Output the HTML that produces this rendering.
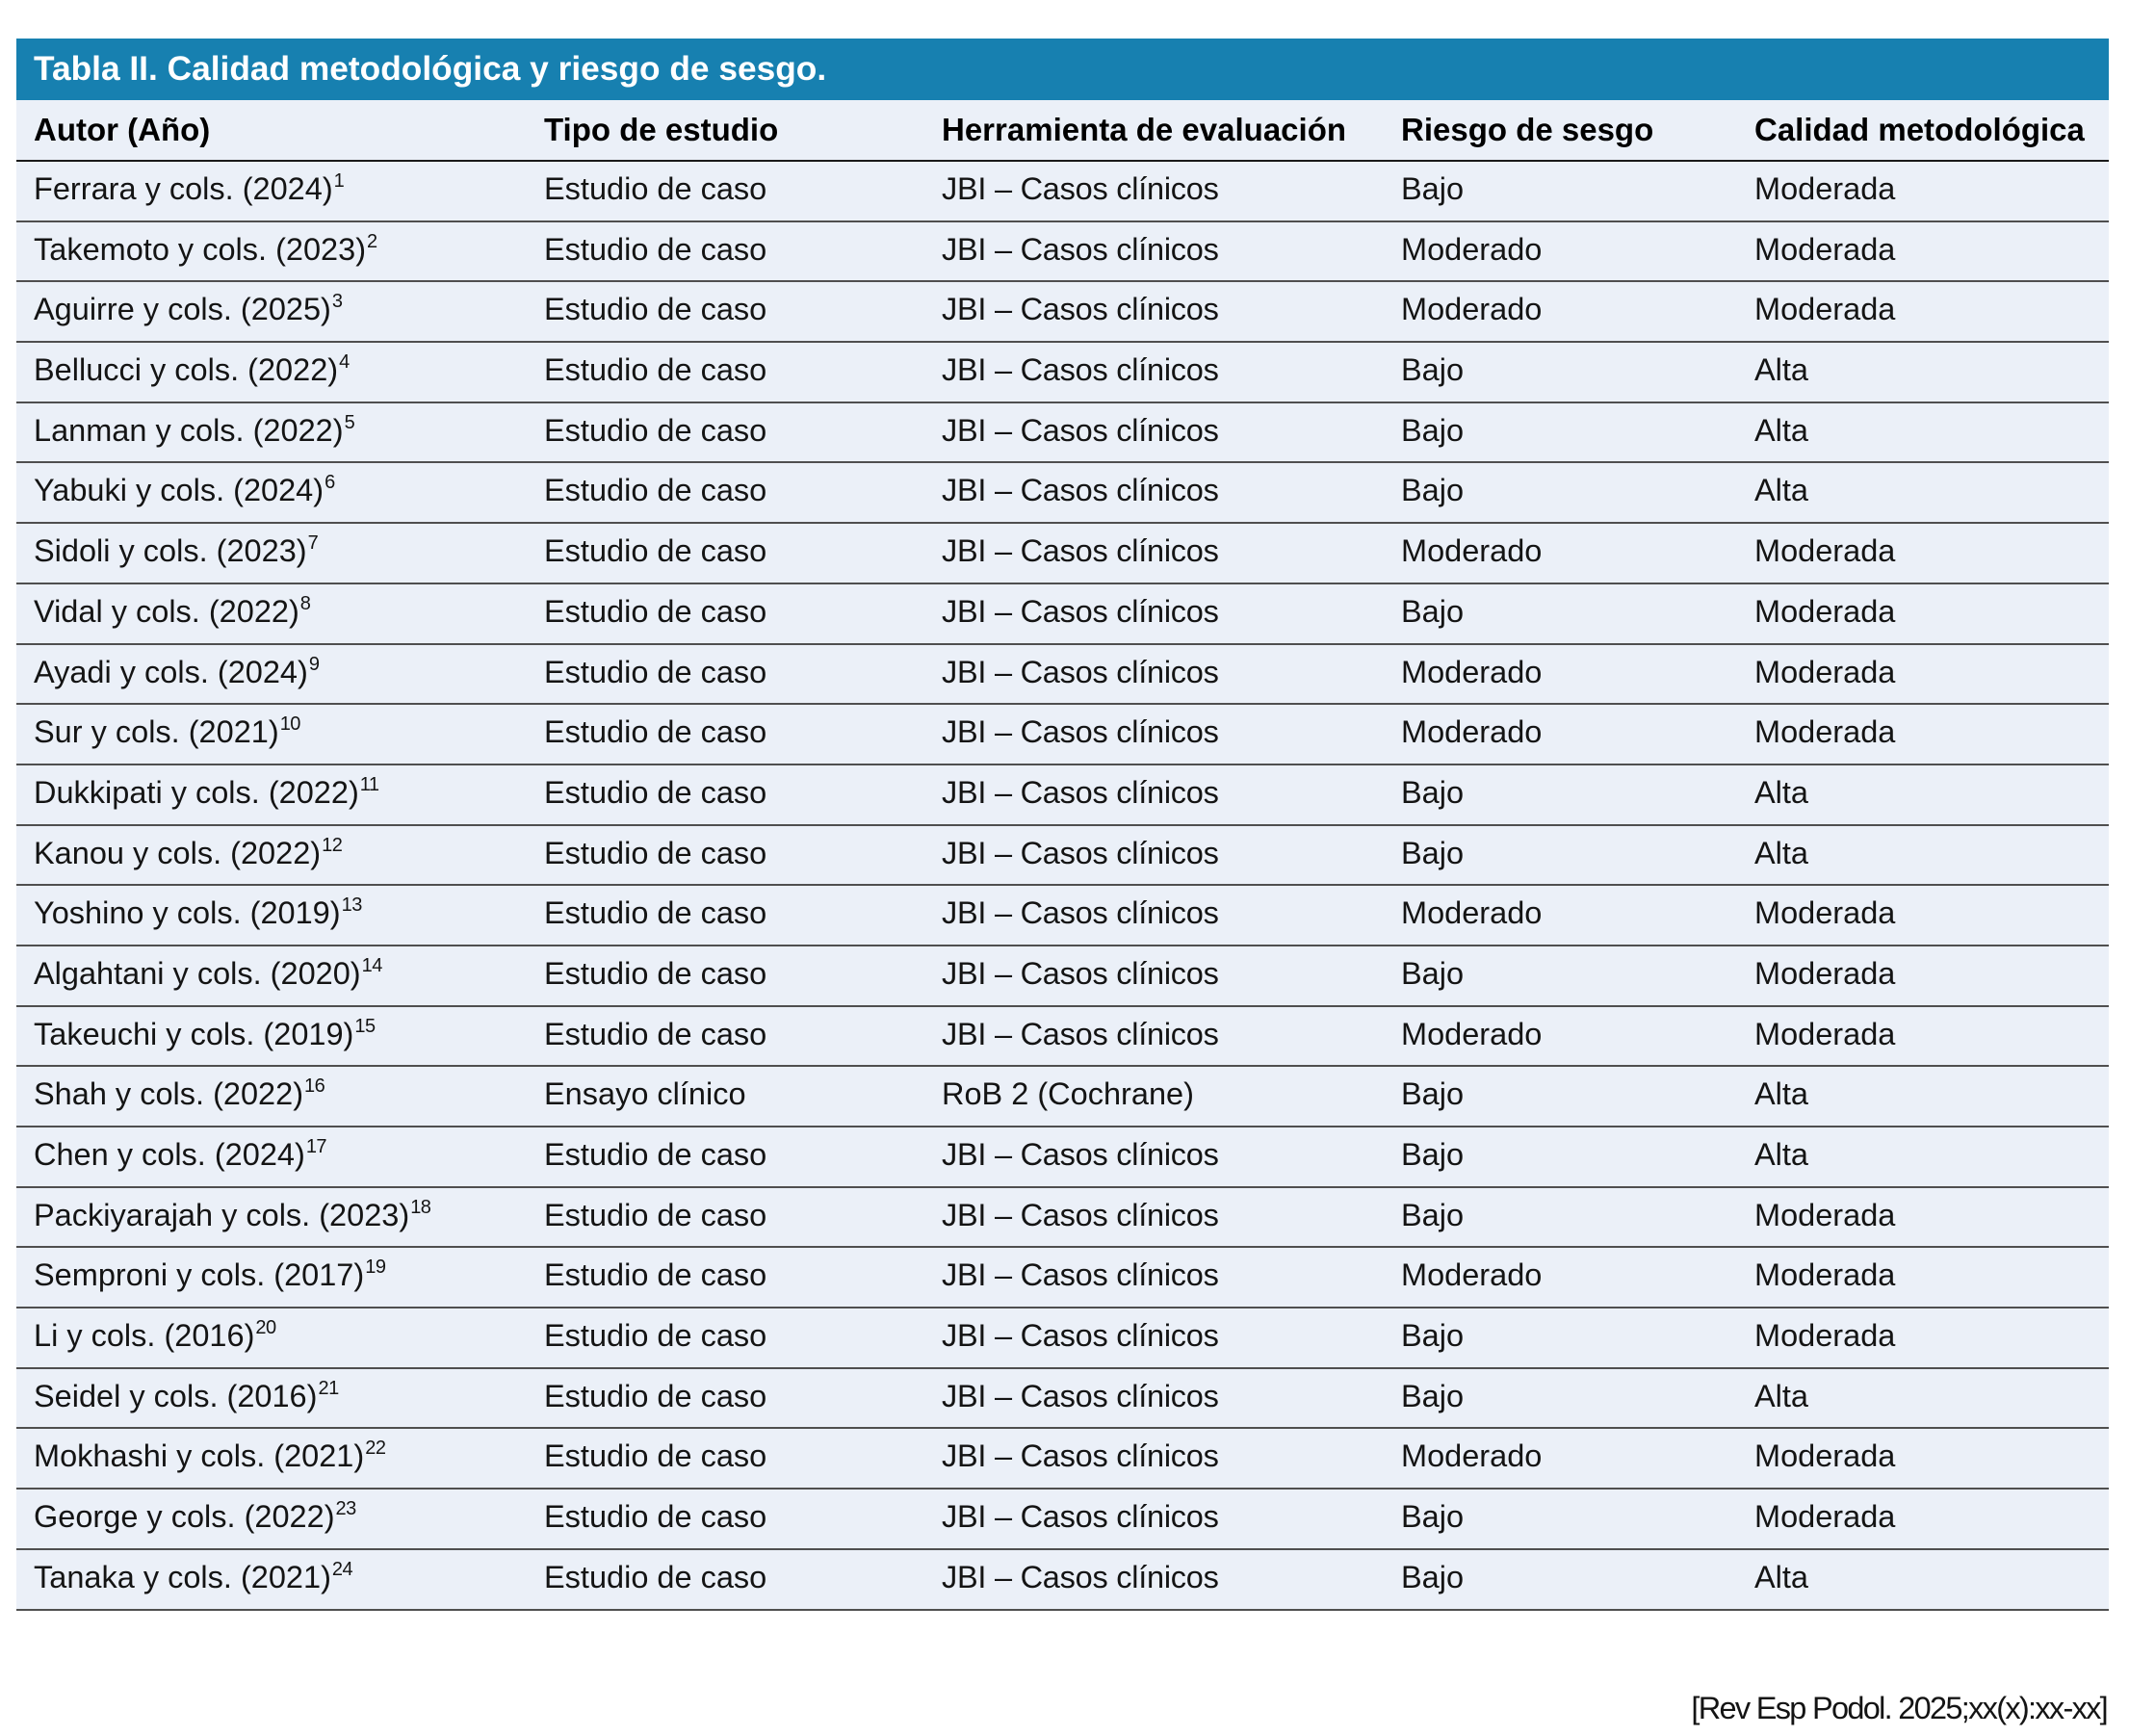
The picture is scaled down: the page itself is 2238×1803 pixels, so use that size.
<!DOCTYPE html>
<html><head><meta charset="utf-8">
<style>
html,body{margin:0;padding:0;background:#fff;}
body{width:2238px;height:1803px;position:relative;overflow:hidden;font-family:"Liberation Sans",Arial,sans-serif;color:#141414;}
.title{position:absolute;left:17px;top:40px;width:2173px;height:64px;background:#1780b0;color:#fff;font-weight:bold;font-size:35.3px;line-height:64px;}
.title span{position:absolute;left:18px;top:0;white-space:nowrap;}
.bg{position:absolute;left:17px;top:104px;width:2173px;height:1569px;background:#ebf0f8;}
.hdr{position:absolute;left:17px;top:104px;width:2173px;height:62px;font-weight:bold;font-size:33px;line-height:62px;color:#000;}
.hdr div{position:absolute;top:0;white-space:nowrap;}
.rows{position:absolute;left:17px;top:166px;width:2173px;}
.r{position:relative;height:62.7px;box-sizing:border-box;border-top:2px solid #4f4f4f;font-size:32.5px;}
.r.first{border-top-color:#1a1a1a;}
.r div{position:absolute;top:-3px;line-height:62.7px;white-space:nowrap;}
.t{letter-spacing:-0.25px;}
.last{height:2px;background:#4f4f4f;}
.c1{left:18px}.c2{left:548px}.c3{left:961px}.c4{left:1438px}.c5{left:1805px}
sup{font-size:20px;vertical-align:baseline;position:relative;top:-13px;margin-left:1px;line-height:0;letter-spacing:-0.5px;}
.foot{position:absolute;right:50px;top:1749px;font-size:32.5px;line-height:50px;letter-spacing:-1.7px;white-space:nowrap;color:#141414;}
</style></head>
<body>
<div class="title"><span>Tabla II. Calidad metodológica y riesgo de sesgo.</span></div>
<div class="bg"></div>
<div class="hdr">
<div class="c1">Autor (Año)</div><div class="c2">Tipo de estudio</div><div class="c3">Herramienta de evaluación</div><div class="c4">Riesgo de sesgo</div><div class="c5">Calidad metodológica</div>
</div>
<div class="rows">
<div class="r first"><div class="c1">Ferrara y cols. (2024)<sup>1</sup></div><div class="c2">Estudio de caso</div><div class="c3 t">JBI – Casos clínicos</div><div class="c4">Bajo</div><div class="c5">Moderada</div></div>
<div class="r"><div class="c1">Takemoto y cols. (2023)<sup>2</sup></div><div class="c2">Estudio de caso</div><div class="c3 t">JBI – Casos clínicos</div><div class="c4">Moderado</div><div class="c5">Moderada</div></div>
<div class="r"><div class="c1">Aguirre y cols. (2025)<sup>3</sup></div><div class="c2">Estudio de caso</div><div class="c3 t">JBI – Casos clínicos</div><div class="c4">Moderado</div><div class="c5">Moderada</div></div>
<div class="r"><div class="c1">Bellucci y cols. (2022)<sup>4</sup></div><div class="c2">Estudio de caso</div><div class="c3 t">JBI – Casos clínicos</div><div class="c4">Bajo</div><div class="c5">Alta</div></div>
<div class="r"><div class="c1">Lanman y cols. (2022)<sup>5</sup></div><div class="c2">Estudio de caso</div><div class="c3 t">JBI – Casos clínicos</div><div class="c4">Bajo</div><div class="c5">Alta</div></div>
<div class="r"><div class="c1">Yabuki y cols. (2024)<sup>6</sup></div><div class="c2">Estudio de caso</div><div class="c3 t">JBI – Casos clínicos</div><div class="c4">Bajo</div><div class="c5">Alta</div></div>
<div class="r"><div class="c1">Sidoli y cols. (2023)<sup>7</sup></div><div class="c2">Estudio de caso</div><div class="c3 t">JBI – Casos clínicos</div><div class="c4">Moderado</div><div class="c5">Moderada</div></div>
<div class="r"><div class="c1">Vidal y cols. (2022)<sup>8</sup></div><div class="c2">Estudio de caso</div><div class="c3 t">JBI – Casos clínicos</div><div class="c4">Bajo</div><div class="c5">Moderada</div></div>
<div class="r"><div class="c1">Ayadi y cols. (2024)<sup>9</sup></div><div class="c2">Estudio de caso</div><div class="c3 t">JBI – Casos clínicos</div><div class="c4">Moderado</div><div class="c5">Moderada</div></div>
<div class="r"><div class="c1">Sur y cols. (2021)<sup>10</sup></div><div class="c2">Estudio de caso</div><div class="c3 t">JBI – Casos clínicos</div><div class="c4">Moderado</div><div class="c5">Moderada</div></div>
<div class="r"><div class="c1">Dukkipati y cols. (2022)<sup>11</sup></div><div class="c2">Estudio de caso</div><div class="c3 t">JBI – Casos clínicos</div><div class="c4">Bajo</div><div class="c5">Alta</div></div>
<div class="r"><div class="c1">Kanou y cols. (2022)<sup>12</sup></div><div class="c2">Estudio de caso</div><div class="c3 t">JBI – Casos clínicos</div><div class="c4">Bajo</div><div class="c5">Alta</div></div>
<div class="r"><div class="c1">Yoshino y cols. (2019)<sup>13</sup></div><div class="c2">Estudio de caso</div><div class="c3 t">JBI – Casos clínicos</div><div class="c4">Moderado</div><div class="c5">Moderada</div></div>
<div class="r"><div class="c1">Algahtani y cols. (2020)<sup>14</sup></div><div class="c2">Estudio de caso</div><div class="c3 t">JBI – Casos clínicos</div><div class="c4">Bajo</div><div class="c5">Moderada</div></div>
<div class="r"><div class="c1">Takeuchi y cols. (2019)<sup>15</sup></div><div class="c2">Estudio de caso</div><div class="c3 t">JBI – Casos clínicos</div><div class="c4">Moderado</div><div class="c5">Moderada</div></div>
<div class="r"><div class="c1">Shah y cols. (2022)<sup>16</sup></div><div class="c2">Ensayo clínico</div><div class="c3">RoB 2 (Cochrane)</div><div class="c4">Bajo</div><div class="c5">Alta</div></div>
<div class="r"><div class="c1">Chen y cols. (2024)<sup>17</sup></div><div class="c2">Estudio de caso</div><div class="c3 t">JBI – Casos clínicos</div><div class="c4">Bajo</div><div class="c5">Alta</div></div>
<div class="r"><div class="c1">Packiyarajah y cols. (2023)<sup>18</sup></div><div class="c2">Estudio de caso</div><div class="c3 t">JBI – Casos clínicos</div><div class="c4">Bajo</div><div class="c5">Moderada</div></div>
<div class="r"><div class="c1">Semproni y cols. (2017)<sup>19</sup></div><div class="c2">Estudio de caso</div><div class="c3 t">JBI – Casos clínicos</div><div class="c4">Moderado</div><div class="c5">Moderada</div></div>
<div class="r"><div class="c1">Li y cols. (2016)<sup>20</sup></div><div class="c2">Estudio de caso</div><div class="c3 t">JBI – Casos clínicos</div><div class="c4">Bajo</div><div class="c5">Moderada</div></div>
<div class="r"><div class="c1">Seidel y cols. (2016)<sup>21</sup></div><div class="c2">Estudio de caso</div><div class="c3 t">JBI – Casos clínicos</div><div class="c4">Bajo</div><div class="c5">Alta</div></div>
<div class="r"><div class="c1">Mokhashi y cols. (2021)<sup>22</sup></div><div class="c2">Estudio de caso</div><div class="c3 t">JBI – Casos clínicos</div><div class="c4">Moderado</div><div class="c5">Moderada</div></div>
<div class="r"><div class="c1">George y cols. (2022)<sup>23</sup></div><div class="c2">Estudio de caso</div><div class="c3 t">JBI – Casos clínicos</div><div class="c4">Bajo</div><div class="c5">Moderada</div></div>
<div class="r"><div class="c1">Tanaka y cols. (2021)<sup>24</sup></div><div class="c2">Estudio de caso</div><div class="c3 t">JBI – Casos clínicos</div><div class="c4">Bajo</div><div class="c5">Alta</div></div>
<div class="last"></div>
</div>
<div class="foot">[Rev Esp Podol. 2025;xx(x):xx-xx]</div>
</body></html>
